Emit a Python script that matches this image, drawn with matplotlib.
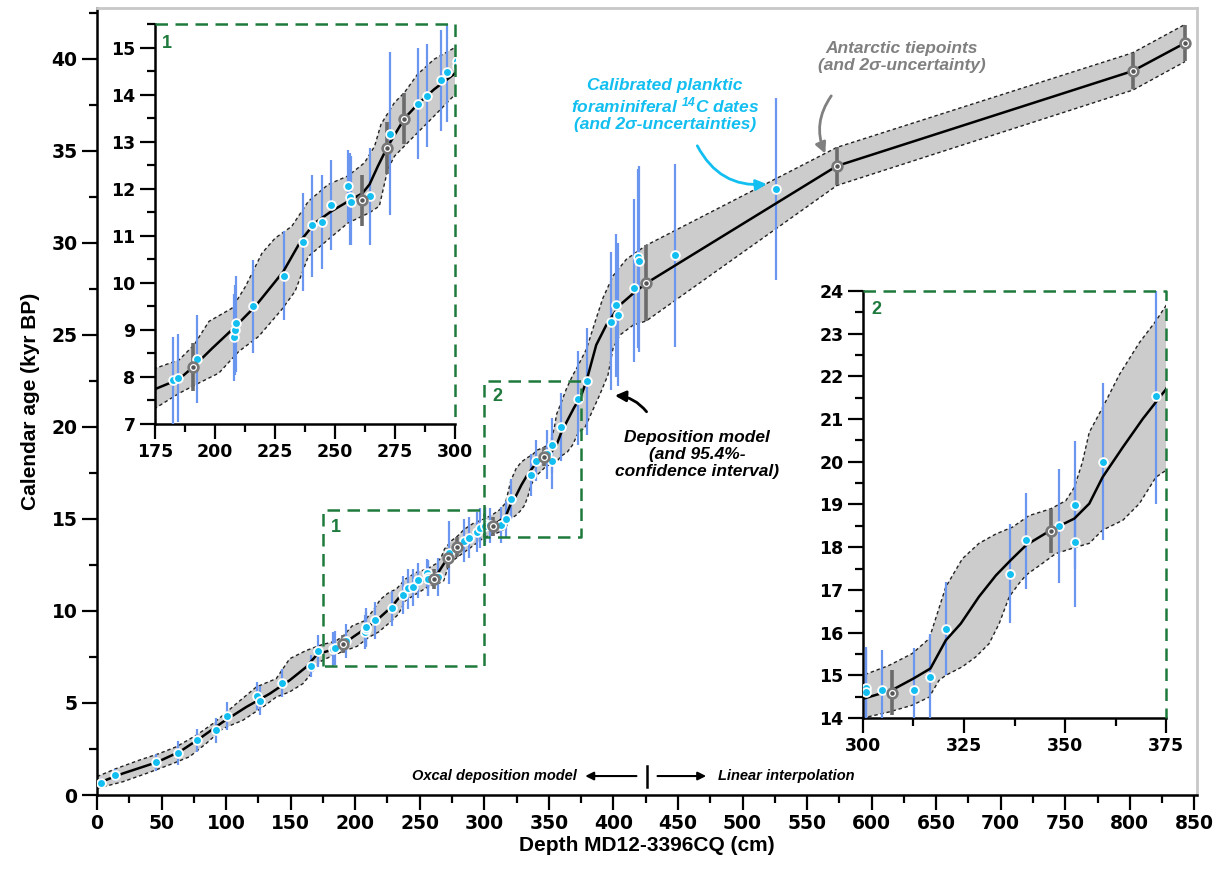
import matplotlib.pyplot as plt
import numpy as np
from matplotlib.ticker import MultipleLocator

plt.rcParams['font.family'] = ['Liberation Sans', 'DejaVu Sans']
plt.rcParams['font.weight'] = 'bold'
plt.rcParams['mathtext.default'] = 'regular'

# Deposition model (median) - depth (cm), age (kyr BP)
model_depth = np.array([0, 20, 46, 64, 79.5, 97.5, 115.6, 133.7, 149.2, 162, 169.8, 175, 185, 190.9,
                        198.9, 208.5, 216.8, 228.5, 236.1, 241.6, 248.5, 256.8, 261.4, 264.4, 267.9,
                        271.7, 278.9, 284.4, 291.3, 300, 307.1, 312.6, 316.7, 320.5, 324.2, 328.7,
                        332.9, 336.6, 340.4, 346.5, 352.3, 356, 359.3, 364.3, 369.2, 375, 379, 386.7,
                        394.5, 404.9, 415.2, 425.4, 573.1, 802.3, 842.8])
model_age = np.array([0.63, 1.17, 1.77, 2.35, 3.07, 3.97, 4.78, 5.5, 6.23, 6.95, 7.58, 7.74, 7.95, 8.21,
                      8.61, 9.07, 9.5, 10.24, 10.92, 11.27, 11.52, 11.77, 11.9, 12.09, 12.48,
                      12.87, 13.49, 13.79, 14.11, 14.45, 14.65, 14.93, 15.16, 15.82, 16.21, 16.84,
                      17.34, 17.7, 18.05, 18.4, 18.67, 19.02, 19.64, 20.34, 21.0, 21.7, 22.46, 24.45,
                      25.53, 26.61, 27.24, 27.8, 34.17, 39.33, 40.85])

# 95.4% confidence interval
ci_up_depth = np.array([0, 15, 33, 48.5, 61.4, 77, 89.8, 97.5, 107.9, 123.4, 138.8, 149.2, 162, 172.4,
                        175, 185, 191.3, 197.5, 207.1, 212.7, 219.6, 225.1, 232, 238.9, 247.2, 255.4,
                        262.3, 266.5, 269.2, 274.8, 278.9, 284.4, 291.3, 300, 306.4, 312.2, 316.4,
                        318.4, 320.5, 324.6, 328.7, 332.9, 337, 341.1, 346.5, 350.2, 352.3, 354.3,
                        356, 359.3, 363.5, 368.4, 372.5, 375, 379, 386.7, 391.9, 399.7, 410, 425.4,
                        573.1, 802.3, 842.8])
ci_up_age = np.array([1.0, 1.44, 1.9, 2.26, 2.62, 3.25, 3.88, 4.33, 4.96, 5.87, 6.32, 7.4, 7.85, 8.12,
                      8.18, 8.36, 8.68, 9.18, 9.46, 9.92, 10.63, 10.95, 11.2, 11.73, 12.09, 12.27,
                      12.55, 12.9, 13.37, 13.83, 14.04, 14.43, 14.75, 15.0, 15.23, 15.51, 15.86,
                      16.45, 17.07, 17.73, 18.09, 18.31, 18.47, 18.74, 18.9, 19.09, 19.4, 19.99,
                      20.69, 21.27, 22.05, 22.79, 23.3, 23.66, 24.2, 25.9, 27.0, 28.2, 29.1, 29.86,
                      35.18, 40.32, 41.86])
ci_low_depth = np.array([0, 20, 38.2, 58.8, 71.7, 84.6, 97.5, 113, 128.5, 138.8, 149.2, 159.5, 165.9,
                         172.4, 175, 185, 193.3, 201.6, 209.9, 218.2, 227.8, 233.4, 238.9, 247.2,
                         255.4, 264.4, 268.5, 272, 274.8, 281.7, 289.9, 300, 306.4, 312.2, 316.4,
                         318.8, 320.5, 324.6, 327.9, 331.2, 333.7, 336.2, 338.7, 340.4, 344.4, 347.7,
                         352.7, 356, 359.3, 364.3, 368.4, 372.5, 375, 377.7, 389.4, 395.8, 399.7,
                         404.9, 415.2, 425.4, 573.1, 802.3, 842.8])
ci_low_age = np.array([0.36, 0.72, 1.17, 1.71, 2.08, 2.8, 3.61, 4.06, 4.78, 5.32, 5.6, 6.05, 6.59,
                       7.22, 7.33, 7.65, 7.87, 8.08, 8.54, 8.86, 9.43, 9.82, 10.56, 10.92,
                       11.27, 11.49, 11.63, 12.41, 12.69, 13.05, 13.47, 14.0, 14.14, 14.3, 14.49,
                       14.88, 15.0, 15.2, 15.43, 15.74, 16.21, 16.84, 17.16, 17.35, 17.62, 17.85,
                       18.0, 18.09, 18.4, 18.63, 19.02, 19.64, 19.8, 19.93, 21.74, 22.82, 24.26,
                       24.98, 25.52, 25.75, 33.11, 38.29, 39.84])

# Calibrated planktic foraminiferal 14C dates with 2-sigma range
c14_depth = np.array([3.4, 13.7, 45.9, 62.7, 77.4, 92.4, 100.6, 123.9, 125.9, 143.5, 165.7, 171.4,
                      182.7, 184.7, 192.7, 207.8, 208.5, 208.7, 215.7, 228.7, 236.7, 240.5, 244.5,
                      248.5, 255.6, 256.4, 256.6, 264.5, 273.0, 284.5, 288.5, 294.3, 296.5,
                      300.7, 300.7, 304.6, 312.6, 316.7, 320.5, 336.4, 340.4, 348.4, 352.4, 352.4,
                      359.3, 372.4, 379.6, 397.9, 402.2, 403.5, 415.7, 419.0, 419.6, 447.9, 525.6])
c14_age = np.array([0.67, 1.08, 1.77, 2.29, 2.98, 3.52, 4.3, 5.38, 5.11, 6.08, 6.99, 7.82,
                    7.94, 7.97, 8.38, 8.84, 9.0, 9.14, 9.5, 10.15, 10.86, 11.22, 11.29,
                    11.66, 12.05, 11.83, 11.71, 11.85, 13.17, 13.81, 13.98, 14.3, 14.48,
                    14.71, 14.6, 14.66, 14.66, 14.97, 16.09, 17.38, 18.16, 18.5, 18.99, 18.12,
                    20.0, 21.53, 22.5, 25.7, 26.6, 26.07, 27.55, 29.23, 29.0, 29.35, 32.91])
c14_lo = np.array([0.4, 0.75, 1.3, 1.65, 2.35, 2.85, 3.55, 4.6, 4.35, 5.3, 6.4, 6.95,
                   7.0, 7.05, 7.44, 7.92, 8.05, 8.1, 8.5, 9.2, 9.82, 10.12, 10.29,
                   10.7, 11.3, 10.8, 10.8, 10.8, 11.45, 12.63, 12.88, 13.22, 13.42,
                   13.75, 13.6, 13.67, 13.67, 13.95, 15.0, 16.22, 17.03, 17.16, 17.5, 16.6,
                   18.16, 19.0, 19.58, 22.0, 22.73, 22.2, 23.5, 24.3, 24.09, 24.36, 27.97])
c14_hi = np.array([0.95, 1.4, 2.25, 2.95, 3.6, 4.2, 5.05, 6.15, 5.9, 6.85, 7.6, 8.7,
                   8.85, 8.92, 9.31, 9.77, 9.95, 10.14, 10.48, 11.1, 11.9, 12.3, 12.3,
                   12.62, 12.82, 12.75, 12.7, 12.87, 14.9, 15.0, 15.08, 15.37, 15.6,
                   15.66, 15.6, 15.6, 15.65, 15.96, 17.19, 18.54, 19.28, 19.84, 20.48, 19.6,
                   21.85, 24.1, 25.39, 29.5, 30.46, 30.0, 32.38, 34.0, 34.19, 34.28, 37.84])

# Antarctic tiepoints with 2-sigma uncertainty
tp_depth = np.array([190.9, 261.4, 271.7, 278.9, 307.1, 346.5, 425.4, 573.1, 802.3, 842.8])
tp_age = np.array([8.21, 11.75, 12.86, 13.49, 14.59, 18.38, 27.8, 34.17, 39.33, 40.85])
tp_err = np.array([0.5, 0.55, 0.55, 0.55, 0.53, 0.52, 2.05, 1.04, 1.0, 1.0])

GREEN = '#1d7a3c'
CYAN = '#12bff0'


def draw_record(a):
    poly_x = np.concatenate([ci_up_depth, ci_low_depth[::-1]])
    poly_y = np.concatenate([ci_up_age, ci_low_age[::-1]])
    a.fill(poly_x, poly_y, color='#cccccc', lw=0, zorder=1)
    a.plot(ci_up_depth, ci_up_age, color='#222222', lw=1.0, ls=(0, (2.5, 2)), zorder=2)
    a.plot(ci_low_depth, ci_low_age, color='#222222', lw=1.0, ls=(0, (2.5, 2)), zorder=2)
    a.vlines(c14_depth, c14_lo, c14_hi, color='#6a96f0', lw=1.6, zorder=3)
    a.plot(model_depth, model_age, color='black', lw=1.8, zorder=4)
    a.vlines(tp_depth, tp_age - tp_err, tp_age + tp_err, color='#6b6b6b', lw=2.6, zorder=5)
    a.plot(c14_depth, c14_age, 'o', ms=6.3, mfc=CYAN, mec='white', mew=1.3, zorder=6)
    a.plot(tp_depth, tp_age, 'o', ms=7, mfc='white', mec='#777777', mew=1.9, zorder=7)
    a.plot(tp_depth, tp_age, 'o', ms=2.2, color='#555555', zorder=8)


def style_axes(a, xmaj, ymaj, fs):
    a.xaxis.set_major_locator(MultipleLocator(xmaj))
    a.xaxis.set_minor_locator(MultipleLocator(xmaj / 2))
    a.yaxis.set_major_locator(MultipleLocator(ymaj))
    a.yaxis.set_minor_locator(MultipleLocator(ymaj / 2))
    a.tick_params(which='major', direction='out', length=11, width=1.6, labelsize=fs, pad=3)
    a.tick_params(which='minor', direction='out', length=5.5, width=1.6)
    for s in ['left', 'bottom']:
        a.spines[s].set_linewidth(1.8)
    for lab in a.get_xticklabels() + a.get_yticklabels():
        lab.set_fontweight('bold')
        lab.set_family('DejaVu Sans')


fig = plt.figure(figsize=(12.22, 8.72), dpi=100)
ax = fig.add_axes([0.0794, 0.0883, 0.9001, 0.9025])
draw_record(ax)
ax.set_xlim(0, 852)
ax.set_ylim(0, 42.75)
style_axes(ax, 50, 5, 13.5)
for s in ['top', 'right']:
    ax.spines[s].set_color('#c8c8c8')
    ax.spines[s].set_linewidth(2)
ax.set_xlabel('Depth MD12-3396CQ (cm)', fontsize=15, fontweight='bold', labelpad=2)
ax.set_ylabel('Calendar age (kyr BP)', fontsize=15, fontweight='bold', labelpad=8)

# zoom boxes in main panel
ax.plot([175, 175, 300, 300, 175], [7, 15.5, 15.5, 7, 7], color=GREEN, lw=1.8, ls=(0, (5, 3)), zorder=9)
ax.plot([300, 300, 375, 375, 300], [14, 22.5, 22.5, 14, 14], color=GREEN, lw=1.8, ls=(0, (5, 3)), zorder=9)
ax.text(181, 14.3, '1', color=GREEN, fontsize=13, fontweight='bold')
ax.text(306, 21.4, '2', color=GREEN, fontsize=13, fontweight='bold')

# annotations
ax.text(440, 37.5, 'Calibrated planktic\nforaminiferal $^{14}$C dates\n(and 2σ-uncertainties)',
        color=CYAN, fontsize=12.5, fontweight='bold', style='italic', ha='center', va='center',
        linespacing=1.15)
ax.annotate('', xy=(521, 33.2), xytext=(464, 35.4),
            arrowprops=dict(arrowstyle='-|>', color=CYAN, lw=2, mutation_scale=16,
                            connectionstyle='arc3,rad=0.35'))
ax.text(623, 40.1, 'Antarctic tiepoints\n(and 2σ-uncertainty)', color='#808080', fontsize=12.5,
        fontweight='bold', style='italic', ha='center', va='center', linespacing=1.15)
ax.annotate('', xy=(565, 34.7), xytext=(570, 38.1),
            arrowprops=dict(arrowstyle='-|>', color='#808080', lw=2, mutation_scale=16,
                            connectionstyle='arc3,rad=0.3'))
ax.text(465, 18.5, 'Deposition model\n(and 95.4%-\nconfidence interval)', color='black',
        fontsize=12.5, fontweight='bold', style='italic', ha='center', va='center', linespacing=1.15)
ax.annotate('', xy=(399, 21.7), xytext=(427, 20.7),
            arrowprops=dict(arrowstyle='-|>', color='black', lw=2, mutation_scale=16,
                            connectionstyle='arc3,rad=0.25'))

ax.text(372, 1.03, 'Oxcal deposition model', fontsize=10.5, fontweight='bold', style='italic',
        ha='right', va='center')
ax.annotate('', xy=(376, 1.03), xytext=(420, 1.03),
            arrowprops=dict(arrowstyle='-|>', color='black', lw=1.5, mutation_scale=12))
ax.plot([426, 426], [0.45, 1.6], color='black', lw=1.8)
ax.annotate('', xy=(474, 1.03), xytext=(432, 1.03),
            arrowprops=dict(arrowstyle='-|>', color='black', lw=1.5, mutation_scale=12))
ax.text(481, 1.03, 'Linear interpolation', fontsize=10.5, fontweight='bold', style='italic',
        ha='left', va='center')

# inset 1
ax1 = fig.add_axes([0.1268, 0.5138, 0.2455, 0.4587])
ax1.set_facecolor('none')
draw_record(ax1)
ax1.set_xlim(175, 300)
ax1.set_ylim(7, 15.5)
style_axes(ax1, 25, 1, 12.5)
ax1.spines['top'].set_visible(False)
ax1.spines['right'].set_visible(False)
ax1.plot([0, 1, 1], [1, 1, 0], transform=ax1.transAxes, color=GREEN, lw=1.8, ls=(0, (5, 3)),
         clip_on=False, zorder=9)
ax1.text(178, 15.0, '1', color=GREEN, fontsize=13, fontweight='bold')

# inset 2
ax2 = fig.add_axes([0.7062, 0.1766, 0.248, 0.4897])
ax2.set_facecolor('none')
draw_record(ax2)
ax2.set_xlim(300, 375)
ax2.set_ylim(14, 24)
style_axes(ax2, 25, 1, 12.5)
ax2.spines['top'].set_visible(False)
ax2.spines['right'].set_visible(False)
ax2.plot([0, 1, 1], [1, 1, 0], transform=ax2.transAxes, color=GREEN, lw=1.8, ls=(0, (5, 3)),
         clip_on=False, zorder=9)
ax2.text(302, 23.45, '2', color=GREEN, fontsize=13, fontweight='bold')

fig.savefig('out.png', dpi=100)
